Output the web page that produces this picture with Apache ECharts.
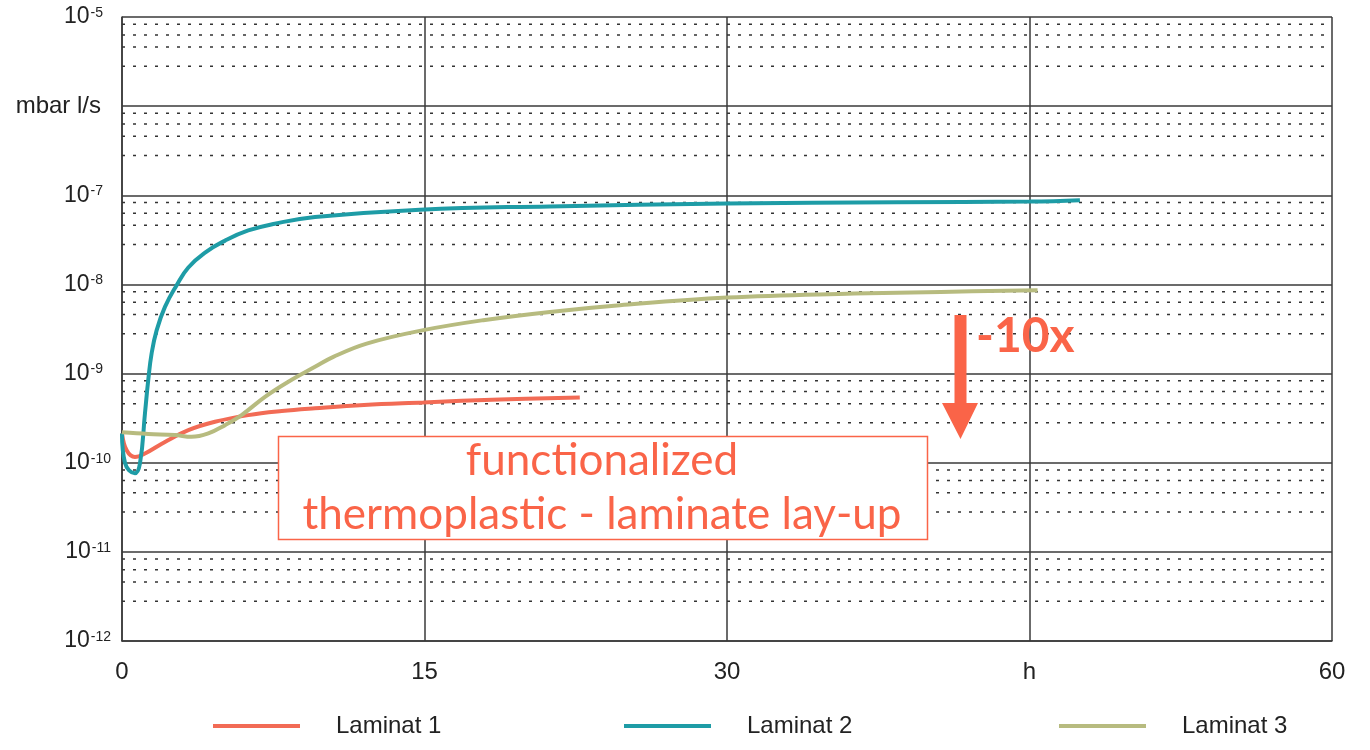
<!DOCTYPE html>
<html>
<head>
<meta charset="utf-8">
<script src="https://cdn.jsdelivr.net/npm/echarts@6/dist/echarts.min.js"></script>
<style>
html,body{margin:0;padding:0;background:#fff;}
#chart{width:1370px;height:750px;}
</style>
</head>
<body>
<div id="chart"></div>
<script>
// ---- data ----
const seriesNames = ['Laminat 1', 'Laminat 2', 'Laminat 3'];

const hours1 = [0, 0.23, 0.64, 1.14, 2.13, 3.29, 4.61, 6.26, 7.92, 9.57, 12.0, 14.94, 18.74, 22.7];
const lam1   = [2.13e-10, 1.38e-10, 1.16e-10, 1.27e-10, 1.71e-10, 2.32e-10, 2.88e-10, 3.42e-10, 3.8e-10, 4.08e-10, 4.45e-10, 4.74e-10, 5.13e-10, 5.4e-10];

const hours2 = [0, 0.15, 0.64, 0.89, 1.14, 1.3, 1.47, 1.72, 2.13, 2.71, 3.29, 4.12, 5.11, 6.26, 7.58, 9.57, 14.77, 21.2, 30, 38.4, 45, 47.5];
const lam2   = [2.13e-10, 0.99e-10, 7.6e-11, 9.8e-11, 3.6e-10, 8.4e-10, 1.69e-9, 3.07e-9, 5.6e-9, 9.8e-9, 1.55e-8, 2.28e-8, 3.1e-8, 4.03e-8, 4.8e-8, 5.7e-8, 6.9e-8, 7.5e-8, 8.07e-8, 8.35e-8, 8.5e-8, 8.8e-8];

const hours3 = [0, 1.3, 2.63, 3.45, 4.28, 5.11, 5.93, 7.09, 8.25, 9.57, 10.48, 12.13, 14.94, 17.91, 21.22, 24.69, 30, 36.3, 40.6, 45.4];
const lam3   = [2.19e-10, 2.1e-10, 2.04e-10, 1.95e-10, 2.13e-10, 2.64e-10, 3.42e-10, 5.48e-10, 8.1e-10, 1.19e-9, 1.54e-9, 2.17e-9, 3.07e-9, 3.97e-9, 4.92e-9, 5.85e-9, 7.13e-9, 7.9e-9, 8.24e-9, 8.6e-9];

const xTickLabels = ['0', '15', '30', 'h', '60'];          // at 0,15,30,45,60
const yTickLabels = ['-12', '-11', '-10', '-9', '-8', '-7', 'mbar l/s', '-5']; // decades 1e-12 .. 1e-5
const minorFactors = [2.8, 4.6, 6.3, 8.3];                   // dotted sub-decade grid lines
const decades = [-12, -11, -10, -9, -8, -7, -6];

const annotationLines = ['functionalized', 'thermoplastic - laminate lay-up'];
const arrowLabel = '-10x';

// ---- chart ----
const FONT = '"Liberation Sans", Arial, sans-serif';
const RED = '#F26B55', TEAL = '#1E9CA6', OLIVE = '#B7BB7F', ANN = '#FA6448';
const X_MIN = 0, X_MAX = 60;

const zip = (xs, ys) => xs.map((x, i) => [x, ys[i]]);

// dotted minor grid drawn as one broken line series across the full x range
const minorGridData = [];
decades.forEach(d => minorFactors.forEach(f => {
  const v = f * Math.pow(10, d);
  minorGridData.push([X_MIN, v], [X_MAX, v], [X_MAX, '-']);
}));

const chart = echarts.init(document.getElementById('chart'), null, { renderer: 'canvas' });

const supBase = { fontSize: 14, fontFamily: FONT, color: '#222', verticalAlign: 'top', lineHeight: 15 };

const option = {
  animation: false,
  backgroundColor: '#fff',
  grid: { left: 122, right: 38, top: 17, bottom: 109, containLabel: false },
  xAxis: {
    type: 'value', min: X_MIN, max: X_MAX, interval: 15,
    axisLine: { show: true, lineStyle: { color: '#3a3a3a', width: 1.5 } },
    axisTick: { show: false },
    axisLabel: {
      margin: 19, fontSize: 24, color: '#222', fontFamily: FONT,
      formatter: v => xTickLabels[Math.round(v / 15)]
    },
    splitLine: { show: true, lineStyle: { color: '#3a3a3a', width: 1.5 } }
  },
  yAxis: {
    type: 'log', logBase: 10, min: 1e-12, max: 1e-5, interval: 1, splitNumber: 7,
    axisLine: { show: true, lineStyle: { color: '#3a3a3a', width: 1.5 } },
    axisTick: { show: false },
    axisLabel: {
      margin: 11, color: '#222', fontFamily: FONT, align: 'right',
      formatter: v => {
        const e = Math.round(Math.log10(v));
        const t = yTickLabels[e + 12];
        if (t === undefined) return '';
        if (t.charAt(0) === '-') return '{b|10}{' + (t.length > 2 ? 's3' : 's2') + '|' + t + '}';
        return '{u|' + t + '}';
      },
      rich: {
        b: { fontSize: 23, fontFamily: FONT, color: '#222', lineHeight: 28 },
        s2: Object.assign({}, supBase, { padding: [3, 8, 0, 1] }),
        s3: Object.assign({}, supBase, { padding: [3, 0, 0, 1] }),
        u: { fontSize: 24, fontFamily: FONT, color: '#222', lineHeight: 28, padding: [0, 10, 0, 0] }
      }
    },
    splitLine: { show: true, lineStyle: { color: '#3a3a3a', width: 1.5 } }
  },
  legend: seriesNames.map((n, i) => ({
    data: [n],
    left: [208, 619, 1054][i],
    top: 709,
    icon: 'rect',
    itemWidth: 87, itemHeight: 4,
    textStyle: { fontSize: 24, color: '#222', fontFamily: FONT, padding: [0, 0, 0, 31] }
  })),
  series: [
    {
      type: 'line', name: '_minorGrid', data: minorGridData, silent: true, z: 1,
      showSymbol: false, connectNulls: false, smooth: false,
      lineStyle: { color: '#333', width: 1.5, type: [3, 8] },
      emphasis: { disabled: true }
    },
    { type: 'line', name: seriesNames[0], data: zip(hours1, lam1), smooth: 0.4, showSymbol: false,
      color: RED, lineStyle: { width: 4, color: RED }, z: 3 },
    { type: 'line', name: seriesNames[1], data: zip(hours2, lam2), smooth: 0.45, showSymbol: false,
      color: TEAL, lineStyle: { width: 4, color: TEAL }, z: 3 },
    { type: 'line', name: seriesNames[2], data: zip(hours3, lam3), smooth: 0.4, showSymbol: false,
      color: OLIVE, lineStyle: { width: 4, color: OLIVE }, z: 3 }
  ],
  graphic: [
    { type: 'rect', z: 100, shape: { x: 278.5, y: 436.5, width: 649, height: 103 },
      style: { fill: '#fff', stroke: ANN, lineWidth: 1.5 } },
    { type: 'text', z: 101, x: 602, y: 461,
      style: { text: annotationLines[0], fill: ANN, font: '44px Lato, "Open Sans", sans-serif', textAlign: 'center', textVerticalAlign: 'middle' } },
    { type: 'text', z: 101, x: 602, y: 515,
      style: { text: annotationLines[1], fill: ANN, font: '44px Lato, "Open Sans", sans-serif', textAlign: 'center', textVerticalAlign: 'middle' } },
    { type: 'polygon', z: 101,
      shape: { points: [[954.5, 315], [966.5, 315], [966.5, 403], [978, 403], [960.5, 439], [942, 403], [954.5, 403]] },
      style: { fill: ANN } },
    { type: 'text', z: 101, x: 976, y: 337,
      style: { text: arrowLabel, fill: ANN, font: 'bold 48px Lato, "Open Sans", sans-serif', textAlign: 'left', textVerticalAlign: 'middle' } }
  ]
};

chart.setOption(option);
</script>
</body>
</html>
